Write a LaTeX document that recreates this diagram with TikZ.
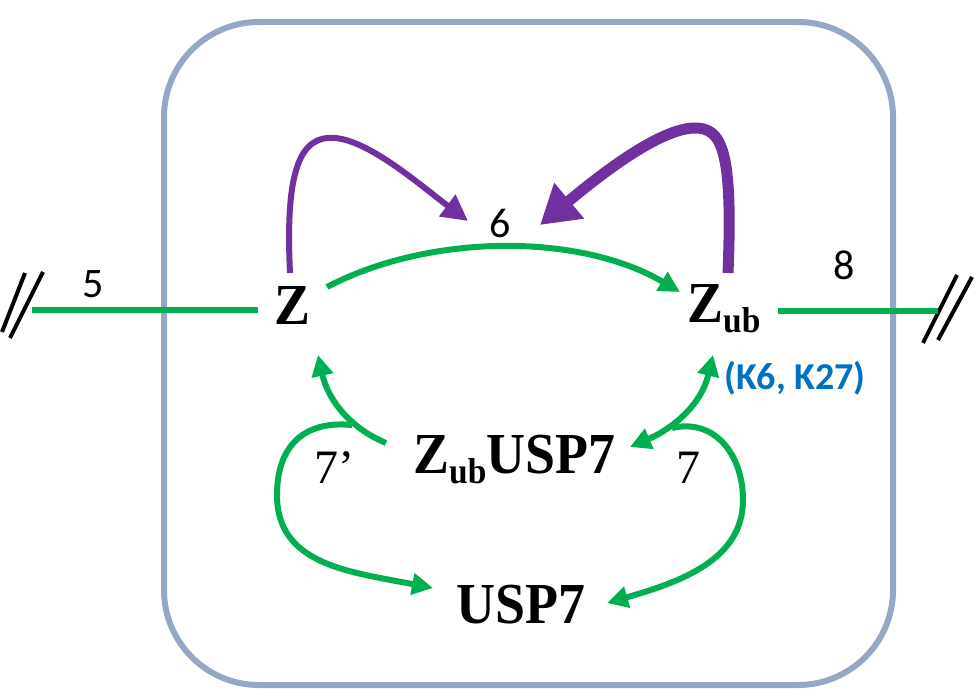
\documentclass[tikz,border=0pt]{standalone}
\usepackage{fontspec}
\usepackage{graphicx}
\setmainfont{Liberation Serif}
\newfontfamily\calibrifont{Carlito}
\usetikzlibrary{arrows.meta}
\definecolor{pgreen}{HTML}{00B050}
\definecolor{ppurple}{HTML}{7030A0}
\definecolor{pblue}{HTML}{0070C0}
\definecolor{pbox}{HTML}{94A8C4}
\newcommand{\subub}{\raisebox{-10pt}{\fontsize{36}{36}\selectfont ub}}
\tikzset{
  species/.style={inner sep=0pt, anchor=base west, font=\fontsize{58}{62}\selectfont\bfseries},
  numlab/.style={inner sep=0pt, font=\calibrifont\fontsize{42}{46}\selectfont},
  serlab/.style={inner sep=0pt, font=\fontsize{48}{52}\selectfont},
  klab/.style={inner sep=0pt, text=pblue, font=\calibrifont\bfseries\fontsize{38}{42}\selectfont},
  gline/.style={draw=pgreen, line width=6pt},
  garrow/.style={gline, -{Triangle[length=21pt,width=21pt]}},
  gdouble/.style={gline, {Triangle[length=21pt,width=21pt]}-{Triangle[length=21pt,width=21pt]}},
  parrow/.style={draw=ppurple, line width=6pt, -{Triangle[length=26pt,width=26pt]}},
  pthick/.style={draw=ppurple, line width=11pt, -{Triangle[length=38pt,width=44pt]}},
  breakmark/.style={draw=black, line width=4pt},
  frame/.style={draw=pbox, line width=6pt, rounded corners=95pt}
}
\begin{document}
\begin{tikzpicture}[x=1pt,y=-1pt]
\useasboundingbox (0,0) rectangle (980,700);
% frame
\draw[frame] (164,22) rectangle (893,685);

% species
\node[species] (Z) at (274,325) {\scalebox{0.93}[1]{Z}};
\node[species] (Zub) at (687,323) {\scalebox{0.93}[1]{Z\subub}};
\node[species] (ZubUSP7) at (413,473) {\scalebox{0.93}[1]{Z\subub USP7}};
\node[species] (USP7) at (456,623) {\scalebox{0.93}[1]{USP7}};

% labels
\node[numlab] (n5) at (93,284) {5};
\node[numlab] (n6) at (500,223) {6};
\node[numlab] (n8) at (844,265) {8};
\node[serlab] (n7p) at (334,468) {7’};
\node[serlab] (n7) at (688,468) {7};
\node[klab] (K) at (795,378) {(K6, K27)};

% named connector ends
\coordinate (Lfar) at (32,310);
\coordinate (Lnear) at (258,310);
\coordinate (Rnear) at (778,311);
\coordinate (Rfar) at (938,311);
\coordinate (Zright) at (327,287);
\coordinate (Zubleft) at (680,292);
\coordinate (Ztop) at (290,273);
\coordinate (Zubtop) at (728,273);
\coordinate (sixL) at (468,221);
\coordinate (sixR) at (540,225);
\coordinate (cxL) at (386,443);
\coordinate (zB) at (318,355);
\coordinate (jL) at (352,425);
\coordinate (uL) at (433,588);
\coordinate (cxR) at (630,447);
\coordinate (zubB) at (713,355);
\coordinate (jR) at (672,428);
\coordinate (uR) at (607,603);

% break marks
\draw[breakmark] (2,332) -- (25,273);
\draw[breakmark] (10,338) -- (43,272);
\draw[breakmark] (923,343) -- (957,275);
\draw[breakmark] (938,340) -- (972,277);

% green straight lines
\draw[gline] (Lfar) -- (Lnear);
\draw[gline] (Rnear) -- (Rfar);

% Z -> Zub
\draw[garrow] (Zright) .. controls (430,233) and (580,233) .. (Zubleft);

% purple arrows
\draw[parrow] (Ztop) .. controls (285,170) and (300,135) .. (335,138)
  .. controls (370,141) and (420,185) .. (sixL);
\draw[pthick] (Zubtop) .. controls (733,150) and (722,128) .. (695,128)
  .. controls (660,128) and (600,175) .. (sixR);

% reaction 7'
\draw[garrow] (cxL) .. controls (350,428) and (328,400) .. (zB);
\draw[garrow] (jL) .. controls (300,420) and (277,450) .. (277,495)
  .. controls (277,565) and (350,572) .. (uL);

% reaction 7
\draw[gdouble] (cxR) .. controls (665,432) and (700,410) .. (zubB);
\draw[garrow] (jR) .. controls (715,418) and (743,455) .. (743,500)
  .. controls (743,560) and (680,582) .. (uR);
\end{tikzpicture}
\end{document}
